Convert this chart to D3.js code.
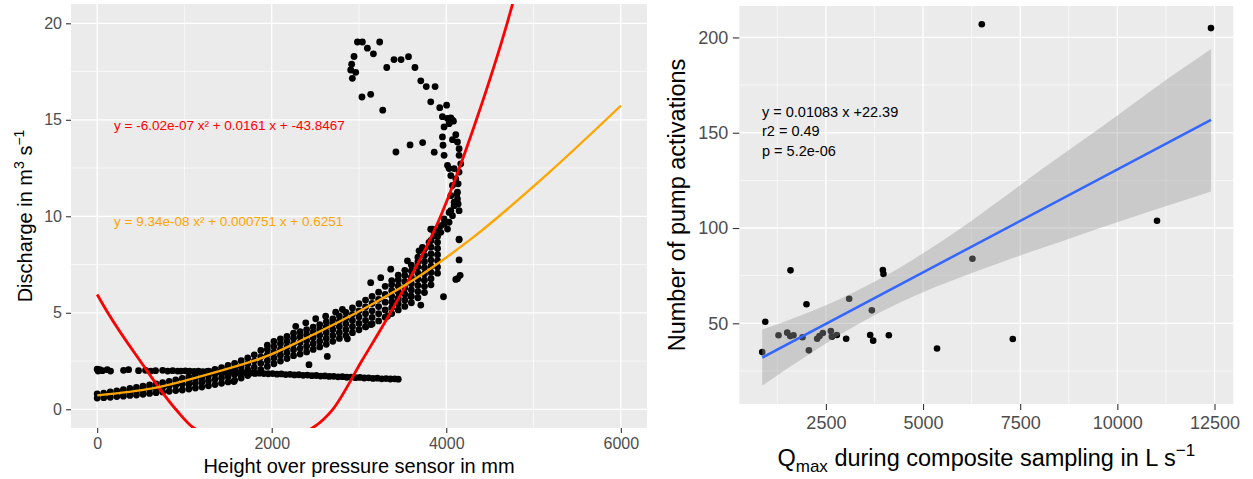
<!DOCTYPE html>
<html>
<head>
<meta charset="utf-8">
<script src="https://cdn.jsdelivr.net/npm/d3@7"></script>
<style>
  body { margin: 0; background: #fff; }
  svg text { font-family: "Liberation Sans", Arial, sans-serif; }
</style>
</head>
<body>
<div id="chart"></div>
<script>
// ---------- left panel data ----------
// dense rising band, one column per x: [x, y, y, ...]
var bandCols = [
  [0, 0.58, 0.80], [75, 0.60, 0.84], [150, 0.62, 0.90], [225, 0.66, 0.95],
  [300, 0.68, 0.86, 1.02], [375, 0.72, 0.90, 1.08], [450, 0.74, 0.95, 1.13], [525, 0.78, 1.00, 1.20],
  [600, 0.82, 1.05, 1.26], [675, 0.86, 1.10, 1.32], [750, 0.90, 1.15, 1.38], [825, 0.93, 1.20, 1.45],
  [900, 0.97, 1.25, 1.52], [975, 1.00, 1.30, 1.60], [1050, 1.05, 1.30, 1.50, 1.68], [1125, 1.10, 1.35, 1.58, 1.78],
  [1200, 1.15, 1.40, 1.65, 1.88], [1275, 1.22, 1.48, 1.74, 1.97], [1350, 1.28, 1.55, 1.82, 2.06], [1425, 1.35, 1.62, 1.90, 2.16],
  [1500, 1.42, 1.70, 1.98, 2.27], [1575, 1.50, 1.80, 2.10, 2.38], [1650, 1.62, 1.92, 2.22, 2.52], [1725, 1.75, 2.05, 2.35, 2.66],
  [1800, 1.88, 2.18, 2.50, 2.82], [1875, 2.05, 2.38, 2.72, 3.05], [1950, 2.22, 2.52, 2.82, 3.10, 3.32], [2025, 2.36, 2.66, 2.96, 3.25, 3.52],
  [2100, 2.50, 2.80, 3.10, 3.40, 3.65], [2175, 2.63, 2.93, 3.23, 3.52, 3.78], [2250, 2.78, 3.08, 3.38, 3.68, 3.94], [2325, 2.86, 3.16, 3.46, 3.76, 4.02],
  [2400, 2.97, 3.27, 3.57, 3.87, 4.13], [2475, 3.10, 3.40, 3.70, 4.00, 4.26], [2550, 3.23, 3.53, 3.83, 4.13, 4.39], [2625, 3.37, 3.67, 3.97, 4.27, 4.53],
  [2700, 3.52, 3.82, 4.12, 4.42, 4.68], [2775, 3.67, 3.97, 4.27, 4.57, 4.83], [2850, 3.82, 4.12, 4.42, 4.72, 5.02], [2925, 3.97, 4.28, 4.60, 4.92, 5.25],
  [3000, 4.12, 4.45, 4.78, 5.10, 5.47], [3075, 4.27, 4.60, 4.95, 5.30, 5.66], [3150, 4.42, 4.76, 5.10, 5.48, 5.85], [3225, 4.58, 4.95, 5.32, 5.70, 6.07],
  [3300, 4.77, 5.15, 5.55, 5.95, 6.37], [3375, 4.96, 5.26, 5.56, 5.86, 6.16, 6.46, 6.67], [3450, 5.15, 5.46, 5.77, 6.08, 6.39, 6.70, 6.95],
  [3525, 5.33, 5.65, 5.97, 6.29, 6.61, 6.93, 7.20], [3600, 5.52, 5.85, 6.18, 6.51, 6.84, 7.17, 7.47],
  [3675, 5.78, 6.10, 6.42, 6.74, 7.06, 7.38, 7.65, 7.88], [3750, 6.05, 6.37, 6.69, 7.01, 7.33, 7.65, 7.97, 8.30],
  [3825, 6.45, 6.77, 7.09, 7.41, 7.73, 8.05, 8.40, 8.75], [3900, 7.05, 7.37, 7.69, 8.01, 8.33, 8.65, 8.95, 9.25]
];

// flat trail at about 2 m3/s
var flatPts = [
  [0, 2.08], [10, 1.98], [30, 2.05], [60, 2.0], [115, 2.05], [153, 1.98], [302, 2.02], [360, 2.05],
  [474, 2.0], [554, 2.02], [612, 1.98], [669, 2.0], [750, 2.02], [808, 1.98], [865, 2.0], [922, 1.98],
  [960, 1.98], [1010, 1.99], [1060, 1.97], [1110, 1.96], [1160, 1.97], [1210, 1.95], [1260, 1.96], [1310, 1.94],
  [1360, 1.95], [1410, 1.93], [1460, 1.92], [1510, 1.93], [1560, 1.91], [1610, 1.9], [1660, 1.91], [1710, 1.88],
  [1760, 1.88], [1810, 1.86], [1860, 1.87], [1910, 1.85], [1960, 1.84], [2010, 1.85], [2060, 1.82], [2110, 1.83],
  [2160, 1.8], [2210, 1.81], [2260, 1.78], [2310, 1.79], [2360, 1.76], [2410, 1.77], [2460, 1.74], [2510, 1.75],
  [2560, 1.72], [2610, 1.73], [2660, 1.7], [2710, 1.71], [2760, 1.68], [2810, 1.69], [2860, 1.66], [2910, 1.67],
  [2960, 1.64], [3010, 1.65], [3060, 1.62], [3110, 1.63], [3160, 1.6], [3210, 1.61], [3260, 1.58], [3310, 1.59],
  [3360, 1.57], [3410, 1.58], [3450, 1.56]
];

// near-vertical column and the loop above it
var upperPts = [
  [2982, 19.03], [3039, 19.03], [3237, 19.03], [3096, 18.71], [3165, 18.42], [2943, 18.28], [2916, 17.88],
  [2905, 17.58], [2962, 17.46], [2924, 17.15], [3318, 17.71], [3401, 18.12], [3482, 18.12], [3567, 18.27],
  [3641, 17.71], [3708, 17.02], [3771, 16.72], [3872, 16.72], [3034, 16.18], [3134, 16.32], [3272, 15.5],
  [3822, 15.93], [3925, 15.63], [4004, 15.76], [3423, 13.33], [3585, 13.7], [3729, 13.82], [3862, 13.32],
  [3956, 15.16], [4014, 15.07], [4071, 14.98], [3975, 14.63], [4032, 14.8], [4082, 14.93], [4052, 15.1],
  [4109, 14.23], [3956, 14.11], [4128, 13.85], [4071, 13.97], [3963, 13.68], [4147, 13.5], [3975, 13.16],
  [4147, 13.16], [4014, 12.64], [4166, 12.72], [4052, 12.11], [4109, 11.94], [4147, 12.29], [4071, 11.6],
  [4136, 11.68], [4052, 11.07], [4121, 11.16], [4090, 10.73], [4136, 10.64], [4052, 10.29], [4147, 10.29],
  [4071, 10.03], [4032, 9.69], [3975, 9.6], [4014, 9.34], [3937, 9.17], [3842, 9.34], [3860, 8.99],
  [3803, 8.65], [4147, 8.78], [3727, 8.39], [4032, 12.47], [4090, 12.47], [4128, 10.9], [4128, 11.25],
  [4090, 10.55], [4032, 10.2], [3975, 9.86], [3937, 9.51], [3860, 9.17], [3822, 9.33]
];

// scattered points off the band
var strayPts = [
  [2275, 4.30], [2390, 4.48], [2504, 4.69], [2618, 4.82], [2733, 5.03], [2810, 5.17], [3134, 6.56],
  [3249, 6.82], [3364, 7.26], [3555, 7.69], [3688, 8.21], [2427, 2.31], [2637, 2.74], [2867, 3.65],
  [3077, 4.27], [3134, 4.39], [3326, 4.82], [3440, 5.6], [3593, 5.86], [3708, 5.4], [3968, 5.83],
  [4109, 6.73], [4128, 6.77], [4159, 6.94], [4147, 7.74], [4147, 8.82], [1567, 1.44]
];

var redFit = [
  [0, 5.95], [122, 5.0], [493, 2.5], [900, 0], [1108, -0.97], [1790, -1.95], [2466, -0.97],
  [2700, 0], [3031, 2.5], [3360, 5], [3935, 10], [4345, 15], [4697, 20], [4766, 21.1]
];
var orangeFit = [
  [0, 0.72], [631, 1.08], [1337, 1.9], [1986, 2.83], [2331, 3.55], [3134, 5.4],
  [3631, 6.72], [4285, 8.83], [5161, 12.2], [6000, 15.73]
];
var redLabel = "y = -6.02e-07 x\u00b2 + 0.0161 x + -43.8467";
var orangeLabel = "y = 9.34e-08 x\u00b2 + 0.000751 x + 0.6251";

var leftXTicks = [0, 2000, 4000, 6000], leftXMinor = [1000, 3000, 5000];
var leftYTicks = [0, 5, 10, 15, 20], leftYMinor = [2.5, 7.5, 12.5, 17.5];

// ---------- right panel data ----------
var qmax = [6512, 12410, 11021, 6271, 7309, 5360, 1590, 939, 862, 1281, 1505, 1582, 1667, 1898, 2001,
            2062, 2276, 2336, 2422, 2628, 2654, 2782, 3022, 3099, 3640, 3683, 3717, 3966, 3982, 4120];
var pumps = [206.9, 204.9, 103.8, 83.9, 41.8, 36.8, 77.8, 50.8, 34.9, 43.7, 45.1, 43.3, 43.7, 42.7, 60.0,
             35.8, 41.9, 43.3, 44.9, 46.0, 43.0, 43.9, 41.9, 62.9, 43.9, 56.8, 40.9, 78.0, 75.9, 43.7];
var regLine = [[862, 32.0], [12410, 156.8]];
var ribbonX  = [862, 2000, 3000, 4000, 5000, 6000, 7000, 8000, 9000, 10000, 11000, 12410];
var ribbonLo = [17.3, 32.8, 45.7, 56.9, 66.3, 74.4, 81.9, 89.1, 96.1, 103.0, 109.8, 119.2];
var ribbonHi = [46.7, 55.3, 64.1, 74.5, 86.8, 100.3, 115.0, 130.0, 144.5, 159.0, 174.0, 194.0];
var statLines = ["y = 0.01083 x +22.39", "r2 = 0.49", "p = 5.2e-06"];

var rightXTicks = [2500, 5000, 7500, 10000, 12500], rightXMinor = [1250, 3750, 6250, 8750, 11250];
var rightYTicks = [50, 100, 150, 200], rightYMinor = [25, 75, 125, 175];

// ---------- drawing ----------
var svg = d3.select("#chart").append("svg")
  .attr("width", 1253).attr("height", 479);

var L = {x0: 71, x1: 647, y0: 4, y1: 428};
var R = {x0: 739.3, x1: 1233.3, y0: 6, y1: 404};

var xL = d3.scaleLinear().domain([-300, 6300]).range([L.x0, L.x1]);
var yL = d3.scaleLinear().domain([-0.97, 21.0]).range([L.y1, L.y0]);
var xR = d3.scaleLinear().domain([272, 12984]).range([R.x0, R.x1]);
var yR = d3.scaleLinear().domain([7.66, 216.5]).range([R.y1, R.y0]);

function panel(p, x, y, xMaj, xMin, yMaj, yMin) {
  var g = svg.append("g");
  g.append("rect").attr("x", p.x0).attr("y", p.y0)
    .attr("width", p.x1 - p.x0).attr("height", p.y1 - p.y0).attr("fill", "#EBEBEB");
  g.selectAll(".vmin").data(xMin).enter().append("line")
    .attr("x1", x).attr("x2", x).attr("y1", p.y0).attr("y2", p.y1)
    .attr("stroke", "white").attr("stroke-width", 0.6);
  g.selectAll(".hmin").data(yMin).enter().append("line")
    .attr("y1", y).attr("y2", y).attr("x1", p.x0).attr("x2", p.x1)
    .attr("stroke", "white").attr("stroke-width", 0.6);
  g.selectAll(".vmaj").data(xMaj).enter().append("line")
    .attr("x1", x).attr("x2", x).attr("y1", p.y0).attr("y2", p.y1)
    .attr("stroke", "white").attr("stroke-width", 1.3);
  g.selectAll(".hmaj").data(yMaj).enter().append("line")
    .attr("y1", y).attr("y2", y).attr("x1", p.x0).attr("x2", p.x1)
    .attr("stroke", "white").attr("stroke-width", 1.3);
}

function styleAxis(g, size) {
  g.attr("font-family", null).attr("font-size", null);
  g.select(".domain").remove();
  g.selectAll(".tick line").attr("stroke", "#333333").attr("stroke-width", 1.1);
  g.selectAll(".tick text").attr("fill", "#4D4D4D").style("font-size", size + "px");
}

panel(L, xL, yL, leftXTicks, leftXMinor, leftYTicks, leftYMinor);
panel(R, xR, yR, rightXTicks, rightXMinor, rightYTicks, rightYMinor);

// axes
svg.append("g").attr("transform", "translate(0," + L.y1 + ")")
  .call(d3.axisBottom(xL).tickValues(leftXTicks).tickSize(5).tickPadding(4.5).tickFormat(d3.format("d")))
  .call(styleAxis, 16);
svg.append("g").attr("transform", "translate(" + L.x0 + ",0)")
  .call(d3.axisLeft(yL).tickValues(leftYTicks).tickSize(5).tickPadding(4))
  .call(styleAxis, 16);
svg.append("g").attr("transform", "translate(0," + R.y1 + ")")
  .call(d3.axisBottom(xR).tickValues(rightXTicks).tickSize(6).tickPadding(6).tickFormat(d3.format("d")))
  .call(styleAxis, 18);
svg.append("g").attr("transform", "translate(" + R.x0 + ",0)")
  .call(d3.axisLeft(yR).tickValues(rightYTicks).tickSize(6.5).tickPadding(4.5))
  .call(styleAxis, 18);

// clip for left panel
svg.append("clipPath").attr("id", "clipL").append("rect")
  .attr("x", L.x0).attr("y", L.y0).attr("width", L.x1 - L.x0).attr("height", L.y1 - L.y0);

var leftPts = [];
bandCols.forEach(function(c) { c.slice(1).forEach(function(v) { leftPts.push([c[0], v]); }); });
leftPts = leftPts.concat(flatPts, upperPts, strayPts);

var gl = svg.append("g").attr("clip-path", "url(#clipL)");
gl.selectAll("circle").data(leftPts).enter().append("circle")
  .attr("cx", function(d) { return xL(d[0]); })
  .attr("cy", function(d) { return yL(d[1]); })
  .attr("r", 3.4).attr("fill", "black");

var lineL = d3.line().x(function(d) { return xL(d[0]); }).y(function(d) { return yL(d[1]); })
  .curve(d3.curveMonotoneX);
gl.append("path").datum(redFit).attr("d", lineL)
  .attr("fill", "none").attr("stroke", "#FF0000").attr("stroke-width", 2.8);
gl.append("path").datum(orangeFit).attr("d", lineL)
  .attr("fill", "none").attr("stroke", "#FFA500").attr("stroke-width", 2.4);

svg.append("text").attr("x", 114).attr("y", 129.5).attr("fill", "#FF0000")
  .style("font-size", "13.5px").text(redLabel);
svg.append("text").attr("x", 114).attr("y", 226).attr("fill", "#FFA500")
  .style("font-size", "13.5px").text(orangeLabel);

// right panel marks: points, then ribbon over them, then fit line
svg.append("g").selectAll("circle").data(qmax).enter().append("circle")
  .attr("cx", function(d) { return xR(d); })
  .attr("cy", function(d, i) { return yR(pumps[i]); })
  .attr("r", 3.3).attr("fill", "black");

var ribbon = d3.area()
  .x(function(d, i) { return xR(ribbonX[i]); })
  .y0(function(d, i) { return yR(ribbonLo[i]); })
  .y1(function(d, i) { return yR(ribbonHi[i]); })
  .curve(d3.curveMonotoneX);
svg.append("path").datum(ribbonX).attr("d", ribbon)
  .attr("fill", "#999999").attr("fill-opacity", 0.4);

svg.append("path").datum(regLine)
  .attr("d", d3.line().x(function(d) { return xR(d[0]); }).y(function(d) { return yR(d[1]); }))
  .attr("fill", "none").attr("stroke", "#3366FF").attr("stroke-width", 2.5);

svg.append("g").selectAll("text").data(statLines).enter().append("text")
  .attr("x", 762).attr("y", function(d, i) { return 116.5 + i * 19.8; })
  .attr("fill", "black").style("font-size", "14.5px").text(function(d) { return d; });

// axis titles
svg.append("text").attr("x", (L.x0 + L.x1) / 2).attr("y", 473)
  .attr("text-anchor", "middle").style("font-size", "20px")
  .text("Height over pressure sensor in mm");

var ty = svg.append("text").attr("transform", "translate(32," + ((L.y0 + L.y1) / 2) + ") rotate(-90)")
  .attr("text-anchor", "middle").style("font-size", "20px");
ty.append("tspan").text("Discharge in m");
ty.append("tspan").attr("dy", -8).style("font-size", "14px").text("3");
ty.append("tspan").attr("dy", 8).text(" s");
ty.append("tspan").attr("dy", -8).style("font-size", "14px").text("\u22121");

var tx = svg.append("text").attr("x", (R.x0 + R.x1) / 2).attr("y", 466)
  .attr("text-anchor", "middle").style("font-size", "23.5px");
tx.append("tspan").text("Q");
tx.append("tspan").attr("dy", 6).style("font-size", "17px").text("max");
tx.append("tspan").attr("dy", -6).text(" during composite sampling in L s");
tx.append("tspan").attr("dy", -10).style("font-size", "17px").text("\u22121");

svg.append("text").attr("transform", "translate(685," + ((R.y0 + R.y1) / 2) + ") rotate(-90)")
  .attr("text-anchor", "middle").style("font-size", "23.5px")
  .text("Number of pump activations");
</script>
</body>
</html>
